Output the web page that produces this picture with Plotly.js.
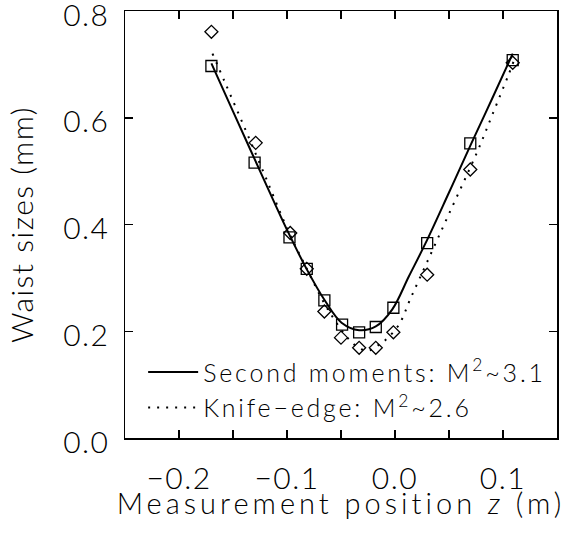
<!DOCTYPE html>
<html>
<head>
<meta charset="utf-8">
<script src="https://cdn.plot.ly/plotly-3.0.1.min.js"></script>
<style>
html,body{margin:0;padding:0;background:#fff;}
text{letter-spacing:1.5px;}
.legendtext{letter-spacing:2.8px;}
.xtitle{letter-spacing:4px;}
</style>
</head>
<body>
<div id="chart" style="width:572px;height:533px;"></div>
<script>
// Measured second-moment widths (squares)
const zSecond = [-0.170, -0.130, -0.0977, -0.0817, -0.0654, -0.049, -0.0332, -0.0178, -0.0015, 0.0298, 0.0697, 0.109];
const wSecond = [0.697, 0.516, 0.376, 0.317, 0.258, 0.2125, 0.198, 0.208, 0.244, 0.365, 0.552, 0.708];
// Measured knife-edge widths (diamonds)
const zKnife = [-0.170, -0.129, -0.097, -0.0817, -0.0654, -0.050, -0.0332, -0.0178, -0.0015, 0.0298, 0.0697, 0.109];
const wKnife = [0.761, 0.553, 0.384, 0.317, 0.237, 0.188, 0.169, 0.169, 0.198, 0.306, 0.503, 0.703];
// Fit curve: second moments (solid)
const zFitSecond = [-0.170, -0.150, -0.122, -0.0993, -0.0814, -0.0654, -0.0495, -0.0332, -0.0178, -0.0025, 0.0129, 0.0283, 0.0500, 0.0707, 0.090, 0.109];
const wFitSecond = [0.702, 0.612, 0.487, 0.387, 0.315, 0.259, 0.216, 0.202, 0.209, 0.241, 0.303, 0.365, 0.460, 0.552, 0.636, 0.720];
// Fit curve: knife-edge (dotted)
const zFitKnife = [-0.169, -0.1576, -0.139, -0.1207, -0.0993, -0.0817, -0.0654, -0.0562, -0.0454, -0.033, -0.024, -0.0147, -0.0086, 0.0037, 0.0145, 0.0298, 0.050, 0.0761, 0.090, 0.105, 0.1097];
const wFitKnife = [0.720, 0.667, 0.580, 0.493, 0.390, 0.317, 0.252, 0.222, 0.191, 0.168, 0.164, 0.175, 0.184, 0.2125, 0.262, 0.330, 0.420, 0.536, 0.605, 0.680, 0.705];
// Axis ticks
const xTickVals = [-0.2, -0.1, 0.0, 0.1];
const xTickText = ['\u22120.2', '\u22120.1', '0.0', '0.1'];
const xMinorVals = [-0.15, -0.05, 0.05];
const yTickVals = [0.0, 0.2, 0.4, 0.6, 0.8];
const yTickText = ['0.0', '0.2', '0.4', '0.6', '0.8'];
const legendSecond = 'Second moments: M<sup>2</sup>~3.1';
const legendKnife = 'Knife\u2212edge: M<sup>2</sup>~2.6';

const FONT = 'Lato, DejaVu Sans, sans-serif';
const W = 300;

const traces = [
  {x: zFitSecond, y: wFitSecond, mode: 'lines', name: legendSecond,
   line: {color: '#000', width: 2, shape: 'spline', smoothing: 1}},
  {x: zFitKnife, y: wFitKnife, mode: 'lines', name: legendKnife,
   line: {color: '#000', width: 2, dash: '2px,7px', shape: 'spline', smoothing: 1}},
  {x: zSecond, y: wSecond, mode: 'markers', showlegend: false,
   marker: {symbol: 'square-open', size: 11, color: '#000', line: {width: 1.3, color: '#000'}}},
  {x: zKnife, y: wKnife, mode: 'markers', showlegend: false,
   marker: {symbol: 'diamond-open', size: 10, color: '#000', line: {width: 1.3, color: '#000'}}}
];

const axisCommon = {
  showgrid: false, zeroline: false, showline: true, linecolor: '#000', linewidth: 1.5,
  mirror: 'ticks', ticks: 'inside', ticklen: 8, tickwidth: 1.5, tickcolor: '#000',
  tickmode: 'array', ticklabeloverflow: 'allow',
  tickfont: {family: FONT, size: 30, color: '#000', weight: W}
};

const layout = {
  width: 572, height: 533,
  margin: {l: 125, r: 15, t: 11, b: 95},
  paper_bgcolor: '#fff', plot_bgcolor: '#fff',
  font: {family: FONT, color: '#000', weight: W},
  xaxis: Object.assign({}, axisCommon, {
    range: [-0.25, 0.15], tickvals: xTickVals, ticktext: xTickText,
    minor: {tickmode: 'array', tickvals: xMinorVals, ticks: 'inside', ticklen: 8, tickwidth: 1.5, tickcolor: '#000', showgrid: false},
    ticklabelstandoff: 13,
    title: {text: 'Measurement position <i>z</i> (m)', font: {family: FONT, size: 29, color: '#000', weight: W}, standoff: 1}
  }),
  yaxis: Object.assign({}, axisCommon, {
    range: [0, 0.8], tickvals: yTickVals, ticktext: yTickText,
    ticklabelstandoff: 8, ticklabelshift: 4,
    title: {text: 'Waist sizes (mm)', font: {family: FONT, size: 30, color: '#000', weight: W}, standoff: 20}
  }),
  showlegend: true,
  legend: {
    x: 0.042, y: 0.208, xanchor: 'left', yanchor: 'top',
    bgcolor: 'rgba(0,0,0,0)', borderwidth: 0,
    font: {family: FONT, size: 25, color: '#000', weight: W},
    itemwidth: 50
  }
};

Plotly.newPlot('chart', traces, layout, {displayModeBar: false, staticPlot: true}).then(function (gd) {
  // lift the x-axis title closer to its tick labels, as in the reference
  const t = gd.querySelector('.xtitle');
  if (t) {
    const y = parseFloat(t.getAttribute('y'));
    if (!isNaN(y)) t.setAttribute('y', y - 9);
  }
});
</script>
</body>
</html>
